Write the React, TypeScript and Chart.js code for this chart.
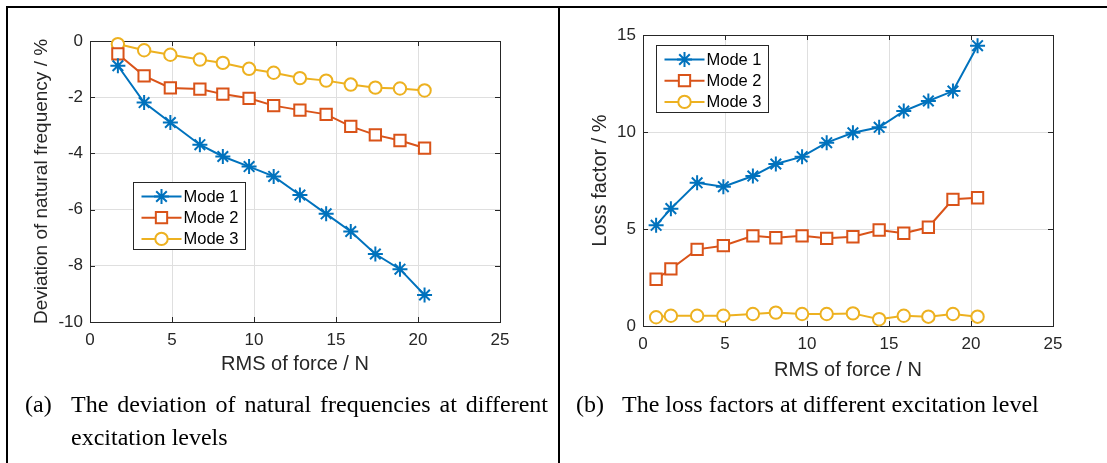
import React, { useEffect, useRef } from 'react';
import { Chart, registerables } from 'chart.js';

Chart.register(...registerables);

// ---------- data ----------
const forceA = [1.7, 3.3, 4.9, 6.7, 8.1, 9.7, 11.2, 12.8, 14.4, 15.9, 17.4, 18.9, 20.4];
const devMode1 = [-0.88, -2.19, -2.9, -3.69, -4.11, -4.47, -4.82, -5.48, -6.15, -6.78, -7.58, -8.12, -9.04];
const devMode2 = [-0.46, -1.24, -1.67, -1.71, -1.89, -2.04, -2.3, -2.46, -2.61, -3.04, -3.34, -3.54, -3.81];
const devMode3 = [-0.11, -0.33, -0.49, -0.66, -0.78, -0.99, -1.13, -1.32, -1.41, -1.55, -1.66, -1.69, -1.76];

const forceB = [0.8, 1.7, 3.3, 4.9, 6.7, 8.1, 9.7, 11.2, 12.8, 14.4, 15.9, 17.4, 18.9, 20.4];
const lossMode1 = [5.19, 6.05, 7.38, 7.18, 7.73, 8.35, 8.73, 9.45, 9.96, 10.24, 11.08, 11.6, 12.11, 14.45];
const lossMode2 = [2.41, 2.94, 3.95, 4.14, 4.65, 4.55, 4.65, 4.52, 4.6, 4.95, 4.78, 5.09, 6.53, 6.61];
const lossMode3 = [0.45, 0.53, 0.53, 0.53, 0.62, 0.69, 0.62, 0.62, 0.65, 0.35, 0.53, 0.48, 0.62, 0.48];

const modeLabels = ['Mode 1', 'Mode 2', 'Mode 3'];
const forceTicks = [0, 5, 10, 15, 20, 25];
const devTicks = [-10, -8, -6, -4, -2, 0];
const lossTicks = [0, 5, 10, 15];

const xTitle = 'RMS of force / N';
const yTitleA = 'Deviation of natural frequency / %';
const yTitleB = 'Loss factor / %';
const captionA = 'The deviation of natural frequencies at different excitation levels';
const captionB = 'The loss factors at different excitation level';

// ---------- styles ----------
const COLORS = ['#0072BD', '#D95319', '#EDB120'];
const STYLES = ['star', 'rect', 'circle'];
const RADII = [7.5, 8, 6.2];
const AXIS = '#262626';
const GRID = '#dfdfdf';
const SANS = "'Liberation Sans', Arial, Helvetica, sans-serif";
const SERIF = "'Liberation Serif', 'Times New Roman', serif";

function drawMarker(ctx: CanvasRenderingContext2D, style: string, x: number, y: number, r: number, color: string) {
  ctx.save();
  ctx.strokeStyle = color;
  ctx.fillStyle = '#ffffff';
  ctx.lineWidth = 2;
  ctx.beginPath();
  if (style === 'star') {
    const d = r * Math.SQRT1_2;
    ctx.moveTo(x - r, y); ctx.lineTo(x + r, y);
    ctx.moveTo(x, y - r); ctx.lineTo(x, y + r);
    ctx.moveTo(x - d, y - d); ctx.lineTo(x + d, y + d);
    ctx.moveTo(x - d, y + d); ctx.lineTo(x + d, y - d);
    ctx.stroke();
  } else if (style === 'rect') {
    const s = r * Math.SQRT1_2;
    ctx.rect(x - s, y - s, 2 * s, 2 * s);
    ctx.fill();
    ctx.stroke();
  } else {
    ctx.arc(x, y, r, 0, Math.PI * 2);
    ctx.fill();
    ctx.stroke();
  }
  ctx.restore();
}

const axisBox = {
  id: 'axisBox',
  beforeDatasetsDraw(chart: any) {
    const { ctx, chartArea: a, scales } = chart;
    const tl = 5;
    ctx.save();
    ctx.strokeStyle = AXIS;
    ctx.lineWidth = 1;
    ctx.beginPath();
    scales.x.ticks.forEach((t: any) => {
      const px = Math.round(scales.x.getPixelForValue(t.value)) + 0.5;
      ctx.moveTo(px, a.bottom); ctx.lineTo(px, a.bottom - tl);
      ctx.moveTo(px, a.top); ctx.lineTo(px, a.top + tl);
    });
    scales.y.ticks.forEach((t: any) => {
      const py = Math.round(scales.y.getPixelForValue(t.value)) + 0.5;
      ctx.moveTo(a.left, py); ctx.lineTo(a.left + tl, py);
      ctx.moveTo(a.right, py); ctx.lineTo(a.right - tl, py);
    });
    ctx.stroke();
    ctx.strokeRect(Math.round(a.left) + 0.5, Math.round(a.top) + 0.5, Math.round(a.right - a.left), Math.round(a.bottom - a.top));
    ctx.restore();
  },
};

const modeLegend = {
  id: 'modeLegend',
  afterDraw(chart: any, _args: any, opts: any) {
    const { ctx, chartArea: a } = chart;
    const x0 = Math.round(a.left + opts.dx) + 0.5;
    const y0 = Math.round(a.top + opts.dy) + 0.5;
    const w = 112, h = 67;
    ctx.save();
    ctx.fillStyle = '#ffffff';
    ctx.fillRect(x0, y0, w, h);
    ctx.strokeStyle = AXIS;
    ctx.lineWidth = 1;
    ctx.strokeRect(x0, y0, w, h);
    chart.data.datasets.forEach((ds: any, i: number) => {
      const cy = y0 + 14 + i * 21.2;
      ctx.strokeStyle = ds.borderColor;
      ctx.lineWidth = ds.borderWidth;
      ctx.beginPath();
      ctx.moveTo(x0 + 8, cy);
      ctx.lineTo(x0 + 48, cy);
      ctx.stroke();
      drawMarker(ctx, ds.pointStyle, x0 + 28, cy, ds.pointRadius, ds.borderColor);
      ctx.fillStyle = '#000000';
      ctx.font = `16.5px ${SANS}`;
      ctx.textBaseline = 'middle';
      ctx.textAlign = 'left';
      ctx.fillText(ds.label, x0 + 50, cy + 1);
    });
    ctx.restore();
  },
};

function makeDatasets(xs: number[], series: number[][]) {
  return series.map((ys, i) => ({
    label: modeLabels[i],
    data: xs.map((x, j) => ({ x, y: ys[j] })),
    borderColor: COLORS[i],
    backgroundColor: '#ffffff',
    pointBackgroundColor: '#ffffff',
    pointBorderColor: COLORS[i],
    borderWidth: 2,
    pointBorderWidth: 2,
    pointStyle: STYLES[i],
    pointRadius: RADII[i],
    pointHoverRadius: RADII[i],
    tension: 0,
    fill: false,
    clip: false as any,
  }));
}

interface PanelCfg {
  xs: number[];
  series: number[][];
  yTicks: number[];
  yTitle: string;
  yTitleSize: number;
  yWidth: number;
  xHeight: number;
  padTop: number;
  padRight: number;
  yTitlePad: number;
  xTitlePad: number;
  legendDx: number;
  legendDy: number;
}

function Panel({ cfg, left, top }: { cfg: PanelCfg; left: number; top: number }) {
  const ref = useRef<HTMLCanvasElement | null>(null);
  useEffect(() => {
    if (!ref.current) return;
    const chart = new Chart(ref.current, {
      type: 'line',
      data: { datasets: makeDatasets(cfg.xs, cfg.series) as any },
      plugins: [axisBox, modeLegend],
      options: {
        responsive: false,
        animation: false,
        events: [],
        layout: { padding: { top: cfg.padTop, right: cfg.padRight, left: 0, bottom: 0 } },
        plugins: {
          legend: { display: false },
          tooltip: { enabled: false },
          modeLegend: { dx: cfg.legendDx, dy: cfg.legendDy },
        } as any,
        scales: {
          x: {
            type: 'linear',
            min: forceTicks[0],
            max: forceTicks[forceTicks.length - 1],
            afterBuildTicks: (s: any) => { s.ticks = forceTicks.map((v) => ({ value: v })); },
            afterFit: (s: any) => { s.height = cfg.xHeight; },
            grid: { color: GRID, lineWidth: 1, drawTicks: false },
            border: { display: true, color: AXIS, width: 1 },
            ticks: {
              color: AXIS,
              font: { family: SANS, size: 17 },
              padding: 8,
              maxRotation: 0,
              autoSkip: false,
              callback: (v: any) => String(v),
            },
            title: {
              display: true,
              text: xTitle,
              color: AXIS,
              font: { family: SANS, size: 20 },
              padding: { top: 0, bottom: cfg.xTitlePad },
            },
          },
          y: {
            type: 'linear',
            min: cfg.yTicks[0],
            max: cfg.yTicks[cfg.yTicks.length - 1],
            afterBuildTicks: (s: any) => { s.ticks = cfg.yTicks.map((v) => ({ value: v })); },
            afterFit: (s: any) => { s.width = cfg.yWidth; },
            grid: { color: GRID, lineWidth: 1, drawTicks: false },
            border: { display: true, color: AXIS, width: 1 },
            ticks: {
              color: AXIS,
              font: { family: SANS, size: 17 },
              padding: 7,
              autoSkip: false,
              callback: (v: any) => String(v),
            },
            title: {
              display: true,
              text: cfg.yTitle,
              color: AXIS,
              font: { family: SANS, size: cfg.yTitleSize },
              padding: { top: cfg.yTitlePad, bottom: 0 },
            },
          },
        },
      },
    });
    return () => chart.destroy();
  }, []);
  return (
    <canvas
      ref={ref}
      width={540}
      height={380}
      style={{ position: 'absolute', left, top, width: 540, height: 380 }}
    />
  );
}

const cfgA: PanelCfg = {
  xs: forceA,
  series: [devMode1, devMode2, devMode3],
  yTicks: devTicks,
  yTitle: yTitleA,
  yTitleSize: 19,
  yWidth: 80,
  xHeight: 68,
  padTop: 31,
  padRight: 50,
  yTitlePad: 20,
  xTitlePad: 14,
  legendDx: 43,
  legendDy: 141,
};

const cfgB: PanelCfg = {
  xs: forceB,
  series: [lossMode1, lossMode2, lossMode3],
  yTicks: lossTicks,
  yTitle: yTitleB,
  yTitleSize: 20,
  yWidth: 81,
  xHeight: 64,
  padTop: 25,
  padRight: 49,
  yTitlePad: 26,
  xTitlePad: 8,
  legendDx: 13,
  legendDy: 10,
};

const capStyle: React.CSSProperties = {
  position: 'absolute',
  fontFamily: SERIF,
  fontSize: 24,
  lineHeight: '33px',
  color: '#000',
  whiteSpace: 'normal',
};

export default function App() {
  return (
    <div style={{ position: 'fixed', left: 0, top: 0, width: 1107, height: 463, background: '#fff', overflow: 'hidden' }}>
      {/* table rules */}
      <div style={{ position: 'absolute', left: 6, top: 6, width: 1101, height: 2, background: '#000' }} />
      <div style={{ position: 'absolute', left: 6, top: 6, width: 2, height: 457, background: '#000' }} />
      <div style={{ position: 'absolute', left: 558, top: 6, width: 2, height: 457, background: '#000' }} />

      <Panel cfg={cfgA} left={10} top={10} />
      <Panel cfg={cfgB} left={562} top={10} />

      <div style={{ ...capStyle, left: 25, top: 388 }}>(a)</div>
      <div style={{ ...capStyle, left: 71, top: 388, width: 477, textAlign: 'justify' }}>{captionA}</div>
      <div style={{ ...capStyle, left: 576, top: 388 }}>(b)</div>
      <div style={{ ...capStyle, left: 622, top: 388, width: 479, textAlign: 'justify' }}>{captionB}</div>
    </div>
  );
}
